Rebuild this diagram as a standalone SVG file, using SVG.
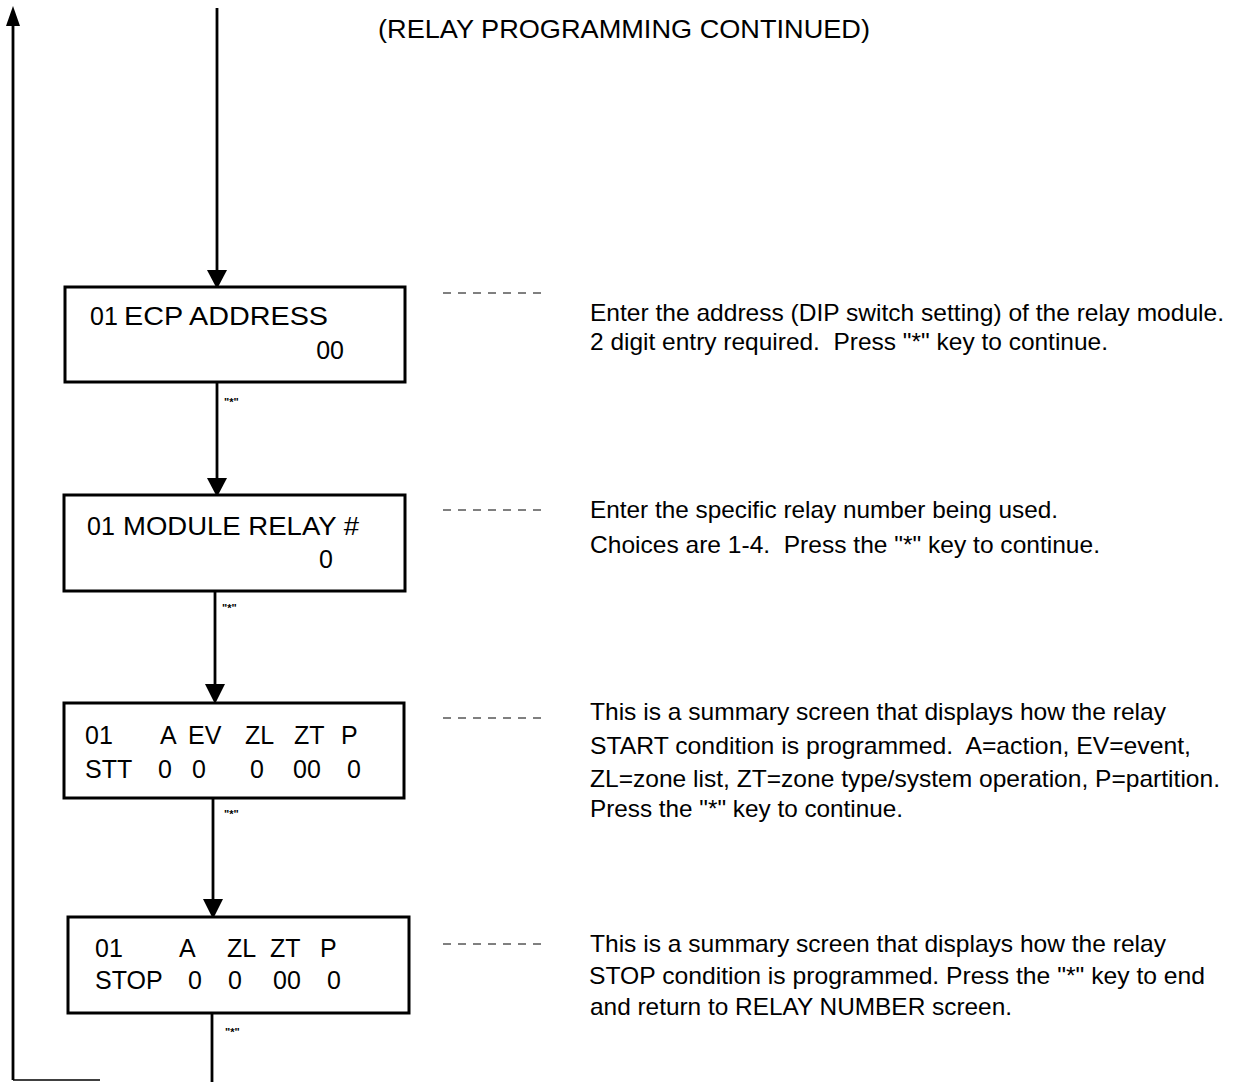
<svg xmlns="http://www.w3.org/2000/svg" width="1244" height="1082" viewBox="0 0 1244 1082">
<style>
.box{fill:#fff;stroke:#000;stroke-width:3}
.bt{font-family:"Liberation Sans",Arial,sans-serif;font-size:25px;fill:#000}
.dt{font-family:"Liberation Sans",Arial,sans-serif;font-size:24px;fill:#000}
.st{font-family:"Liberation Sans",Arial,sans-serif;font-size:11px;font-weight:bold;fill:#000}
.ln{stroke:#000;stroke-width:2.8;fill:none}
.dash{stroke:#000;stroke-width:1;stroke-dasharray:8 7;fill:none}
.ah{fill:#000}
</style>
<rect width="1244" height="1082" fill="#fff"/>
<text class="bt" x="378" y="38" font-size="23" textLength="492" lengthAdjust="spacingAndGlyphs">(RELAY PROGRAMMING CONTINUED)</text>
<g id="connectors">
<line class="ln" x1="13" y1="22" x2="13" y2="1080"/>
<polygon class="ah" points="13,6 6,26 20,26"/>
<line x1="13" y1="1080" x2="100" y2="1080" stroke="#000" stroke-width="1.5"/>
<line class="ln" x1="217" y1="8" x2="217" y2="272"/>
<polygon class="ah" points="207,270 227,270 217,289"/>
<line class="ln" x1="217" y1="382" x2="217" y2="480"/>
<polygon class="ah" points="207,478 227,478 217,497"/>
<text class="st" x="224" y="406">"*"</text>
<line class="ln" x1="215" y1="591" x2="215" y2="686"/>
<polygon class="ah" points="205,684 225,684 215,704"/>
<text class="st" x="222" y="612">"*"</text>
<line class="ln" x1="213" y1="798" x2="213" y2="902"/>
<polygon class="ah" points="203,899 223,899 213,919"/>
<text class="st" x="224" y="818">"*"</text>
<line class="ln" x1="212" y1="1013" x2="212" y2="1082"/>
<text class="st" x="225" y="1036">"*"</text>
<line class="dash" x1="443" y1="293" x2="545" y2="293"/>
<line class="dash" x1="443" y1="510" x2="545" y2="510"/>
<line class="dash" x1="443" y1="718" x2="545" y2="718"/>
<line class="dash" x1="443" y1="944" x2="545" y2="944"/>
</g>
<g id="node1">
<rect class="box" x="65" y="287" width="340" height="95"/>
<text class="bt" x="90" y="325">01</text>
<text class="bt" x="124" y="325" textLength="204" lengthAdjust="spacingAndGlyphs">ECP ADDRESS</text>
<text class="bt" x="344" y="359" text-anchor="end">00</text>
</g>
<g id="node2">
<rect class="box" x="64" y="495" width="341" height="96"/>
<text class="bt" x="87" y="535">01</text>
<text class="bt" x="123" y="535" textLength="236" lengthAdjust="spacingAndGlyphs">MODULE RELAY #</text>
<text class="bt" x="333" y="568" text-anchor="end">0</text>
</g>
<g id="node3">
<rect class="box" x="64" y="703" width="340" height="95"/>
<text class="bt" x="85" y="744">01</text>
<text class="bt" x="160" y="744">A</text>
<text class="bt" x="188" y="744">EV</text>
<text class="bt" x="245" y="744">ZL</text>
<text class="bt" x="294" y="744">ZT</text>
<text class="bt" x="341" y="744">P</text>
<text class="bt" x="85" y="778">STT</text>
<text class="bt" x="158" y="778">0</text>
<text class="bt" x="192" y="778">0</text>
<text class="bt" x="250" y="778">0</text>
<text class="bt" x="293" y="778">00</text>
<text class="bt" x="347" y="778">0</text>
</g>
<g id="node4">
<rect class="box" x="68" y="917" width="341" height="96"/>
<text class="bt" x="95" y="957">01</text>
<text class="bt" x="179" y="957">A</text>
<text class="bt" x="227" y="957">ZL</text>
<text class="bt" x="270" y="957">ZT</text>
<text class="bt" x="320" y="957">P</text>
<text class="bt" x="95" y="989">STOP</text>
<text class="bt" x="188" y="989">0</text>
<text class="bt" x="228" y="989">0</text>
<text class="bt" x="273" y="989">00</text>
<text class="bt" x="327" y="989">0</text>
</g>
<g id="desc1">
<text class="dt" x="590" y="321" textLength="634" lengthAdjust="spacingAndGlyphs">Enter the address (DIP switch setting) of the relay module.</text>
<text class="dt" x="590" y="350" textLength="518" lengthAdjust="spacingAndGlyphs" xml:space="preserve">2 digit entry required.  Press "*" key to continue.</text>
</g>
<g id="desc2">
<text class="dt" x="590" y="518" textLength="468" lengthAdjust="spacingAndGlyphs">Enter the specific relay number being used.</text>
<text class="dt" x="590" y="553" textLength="510" lengthAdjust="spacingAndGlyphs" xml:space="preserve">Choices are 1-4.  Press the "*" key to continue.</text>
</g>
<g id="desc3">
<text class="dt" x="590" y="720" textLength="576" lengthAdjust="spacingAndGlyphs">This is a summary screen that displays how the relay</text>
<text class="dt" x="590" y="754" textLength="601" lengthAdjust="spacingAndGlyphs" xml:space="preserve">START condition is programmed.  A=action, EV=event,</text>
<text class="dt" x="590" y="787" textLength="630" lengthAdjust="spacingAndGlyphs">ZL=zone list, ZT=zone type/system operation, P=partition.</text>
<text class="dt" x="590" y="817" textLength="313" lengthAdjust="spacingAndGlyphs">Press the "*" key to continue.</text>
</g>
<g id="desc4">
<text class="dt" x="590" y="952" textLength="576" lengthAdjust="spacingAndGlyphs">This is a summary screen that displays how the relay</text>
<text class="dt" x="589" y="984" textLength="616" lengthAdjust="spacingAndGlyphs">STOP condition is programmed. Press the "*" key to end</text>
<text class="dt" x="590" y="1015" textLength="422" lengthAdjust="spacingAndGlyphs">and return to RELAY NUMBER screen.</text>
</g>
</svg>
